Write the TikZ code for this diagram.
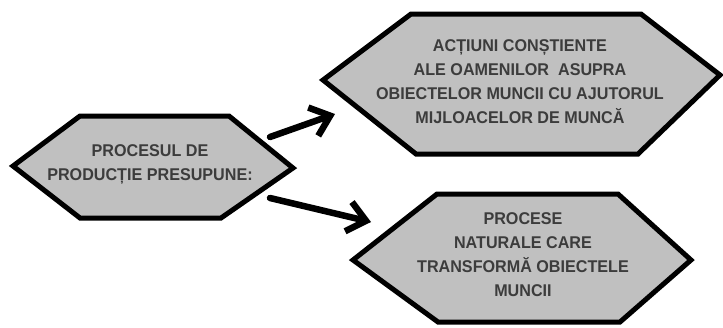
\documentclass[tikz,border=0pt]{standalone}
\usepackage{fontspec}
\setmainfont{Liberation Sans}[FakeStretch=0.95]
\usepackage{tikz}
\usetikzlibrary{arrows.meta}
\definecolor{hexgray}{HTML}{C0C0C0}
\definecolor{inkgray}{HTML}{3C3C3C}

\begin{document}
\begin{tikzpicture}[x=1pt,y=-1pt,
      hexa/.style={draw=black, line width=5pt, fill=hexgray, line join=miter},
      txt/.style={text=inkgray, align=center, inner sep=0pt,
                  font=\fontsize{17}{24}\selectfont\bfseries},
      arr/.style={-{Straight Barb[length=18pt,width=30pt]}, line width=6.5pt, line cap=round}]
    \useasboundingbox (0,0) rectangle (723,327);
    % hexagons
    \draw[hexa] (13,166) -- (80,116) -- (229,116) -- (293,168) -- (221,218) -- (80,218) -- cycle;
    \draw[hexa] (323,80) -- (411,14) -- (641,14) -- (720,75) -- (638,154) -- (416,154) -- cycle;
    \draw[hexa] (353,260) -- (437,194) -- (618,194) -- (691,260) -- (620,322) -- (438,322) -- cycle;
    % texts
    \node[txt] (proces) at (150,164) {PROCESUL DE\\PRODUCȚIE PRESUPUNE:};
    \node[txt] (actiuni) at (520,82)
         {ACȚIUNI CONȘTIENTE\\ALE OAMENILOR\ \ ASUPRA\\OBIECTELOR MUNCII CU AJUTORUL\\MIJLOACELOR DE MUNCĂ};
    \node[txt] (naturale) at (523,255)
         {PROCESE\\NATURALE CARE\\TRANSFORMĂ OBIECTELE\\MUNCII};
    % arrows
    \coordinate (sus) at (270,137);
    \coordinate (jos) at (270,198);
    \coordinate (susvarf) at (335,114);
    \coordinate (josvarf) at (371,222);
    \draw[arr] (sus) -- (susvarf);
    \draw[arr] (jos) -- (josvarf);
  \end{tikzpicture}
\end{document}
